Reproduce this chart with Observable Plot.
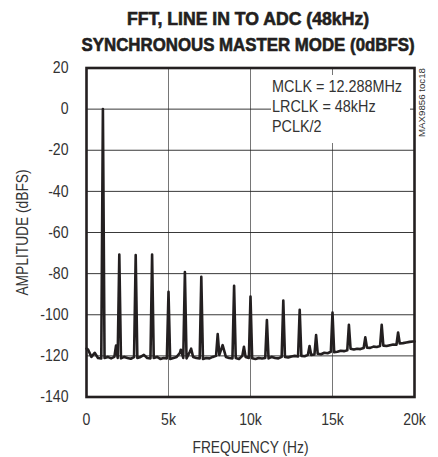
<!DOCTYPE html>
<html><head><meta charset="utf-8">
<script src="https://cdn.jsdelivr.net/npm/d3@7"></script>
<script src="https://cdn.jsdelivr.net/npm/@observablehq/plot@0.6"></script>
<style>
body{margin:0;background:#fff;}
#wrap{position:relative;width:438px;height:457px;overflow:hidden;}
#title{position:relative;height:58px;}
.tl{position:absolute;left:48px;width:400px;text-align:center;line-height:20px;white-space:nowrap;}
.tl span{display:inline-block;font-family:'Liberation Sans',Arial,sans-serif;font-weight:bold;font-size:17.5px;color:#231f20;-webkit-text-stroke:0.6px #231f20;transform-origin:50% 50%;}
#note{position:absolute;left:271px;top:75px;width:139px;height:68px;background:#fff;box-sizing:border-box;padding-top:2.4px;padding-left:1.3px;}
#noteIn{font-family:'Liberation Sans',Arial,sans-serif;font-size:17px;line-height:20px;color:#333;white-space:nowrap;transform-origin:0 0;display:inline-block;}
#code{position:absolute;left:0;top:0;transform-origin:0 0;
 font-family:'Liberation Sans',Arial,sans-serif;font-size:9.5px;line-height:9.5px;color:#333;white-space:nowrap;}
</style></head>
<body>
<div id="wrap">
<div id="title">
 <div class="tl" style="top:8.5px"><span data-w="242">FFT, LINE IN TO ADC (48kHz)</span></div>
 <div class="tl" style="top:35.2px"><span data-w="333">SYNCHRONOUS MASTER MODE (0dBFS)</span></div>
</div>
<div id="chart"></div>
<div id="note"><div id="noteIn"><span id="nl1">MCLK = 12.288MHz</span><br>LRCLK = 48kHz<br>PCLK/2</div></div>
<div id="code">MAX9856 toc18</div>
</div>
<script>
// Noise floor samples (Hz, dBFS)
const floorHz = [0,100,300,500,700,900,1100,1300,1500,1700,1900,2100,2300,2500,2700,2900,3100,3300,3500,3700,3900,
 4100,4300,4500,4700,4900,5100,5300,5500,5700,5900,6100,6300,6500,6700,6900,7100,7300,7500,7700,7900,
 8100,8500,8700,8900,9100,9300,9500,9700,9900,10100,10300,10500,10700,10900,11100,11300,11500,11700,11900,
 12100,12300,12500,12700,12900,13100,13300,13500,13700,13900,14100,14300,14500,14700,14900,15100,15300,15500,15700,15900,
 16100,16300,16500,16700,16900,17100,17300,17500,17700,17900,18100,18300,18500,18700,18900,19100,19300,19500,19700,19900,20000];
const floorDb = [-116.5,-117,-120.5,-118.5,-121,-121.3,-121,-120.5,-121.2,-120.5,-121,-121.2,-120.5,-121,-121.4,-120.6,-121,-120.5,-119.5,-121,-121.2,
 -121,-120.5,-121.5,-121,-121.2,-121.5,-121,-120.5,-118.5,-121,-121.2,-118,-120.5,-121,-121.3,-121.5,-121,-121.2,-120.5,-120,
 -119.5,-120.5,-121,-121.2,-121,-121.5,-120,-120.5,-121,-121.2,-121.5,-121,-121.3,-121,-121.2,-120.5,-121,-121.2,-120.5,
 -120.5,-120.8,-120.3,-120,-120.3,-120,-120.2,-119.5,-119.6,-119.3,-119,-119.2,-118.5,-118.7,-118,-118.2,-118,-117.5,-117.7,-117.3,
 -116.5,-116.9,-116.5,-116.7,-116.2,-116,-116.1,-115.5,-115.7,-115.2,-115,-115.2,-114.8,-114.5,-114.6,-114,-113.8,-113.5,-113.2,-113,-113];
// Harmonics of the 1kHz tone
const harmHz = [1000,2000,3000,4000,5000,6000,7000,8000,9000,10000,11000,12000,13000,14000,15000,16000,17000,18000,19000];
const harmDb = [0,-70.7,-71,-70.7,-88.8,-79.2,-81.5,-109.4,-85.9,-91.2,-102.6,-93.1,-97.6,-109.9,-98.9,-104.9,-111,-104.9,-108.6];
// Small spurs
const spurHz = [1800,5750,6380,8300,9600,13600];
const spurDb = [-115,-117,-116.5,-114.8,-115.6,-115.2];

const xTicks = [0,5000,10000,15000,20000];
const xTickLabels = ["0","5k","10k","15k","20k"];
const yTicks = [-140,-120,-100,-80,-60,-40,-20,0,20];

const spectrum = [
  ...floorHz.map((f,i)=>({f, db: floorDb[i]})),
  ...harmHz.map((f,i)=>({f, db: harmDb[i]})),
  ...spurHz.map((f,i)=>({f, db: spurDb[i]}))
].sort((a,b)=>a.f-b.f);

const ink = "#231f20";
const chart = Plot.plot({
  width: 438, height: 399,
  marginLeft: 86, marginRight: 24, marginTop: 9.5, marginBottom: 60.5,
  style: {fontFamily: "'Liberation Sans',Arial,sans-serif", fontSize: "16px", color: "#333", background: "#fff"},
  x: {domain: [0,20000]},
  y: {domain: [-140,20]},
  marks: [
    Plot.gridX(xTicks, {stroke: "#666", strokeOpacity: 1, strokeWidth: 0.9}),
    Plot.gridY(yTicks, {stroke: "#222", strokeOpacity: 1, strokeWidth: 0.9}),
    Plot.line(spectrum, {x: "f", y: "db", stroke: ink, strokeWidth: 2.6, strokeLinejoin: "round"}),
    Plot.frame({stroke: ink, strokeWidth: 2.6}),
    Plot.axisX(xTicks, {tickSize: 0, tickPadding: 17, tickFormat: d=>xTickLabels[xTicks.indexOf(d)],
      label: "FREQUENCY (Hz)", labelAnchor: "center", labelArrow: "none", labelOffset: 56}),
    Plot.axisY(yTicks, {tickSize: 0, tickPadding: 18, tickFormat: d=>String(d),
      label: "AMPLITUDE (dBFS)", labelAnchor: "center", labelArrow: "none", labelOffset: 70})
  ]
});
document.getElementById("chart").appendChild(chart);

// condense SVG texts horizontally (Helvetica Condensed look)
chart.querySelectorAll("text").forEach(t => {
  const w = t.getComputedTextLength();
  const txt = t.textContent;
  const k = (txt === "FREQUENCY (Hz)" || txt === "AMPLITUDE (dBFS)") ? 0.86 : 0.88;
  t.setAttribute("textLength", (w*k).toFixed(2));
  t.setAttribute("lengthAdjust", "spacingAndGlyphs");
});
// title lines fitted to the reference widths
document.querySelectorAll(".tl span").forEach(s => {
  const k = (+s.dataset.w) / s.getBoundingClientRect().width;
  s.style.transform = `scaleX(${k})`;
});
// annotation
{
  const w = document.getElementById("nl1").getBoundingClientRect().width;
  document.getElementById("noteIn").style.transform = `scaleX(${130 / w})`;
  const c = document.getElementById("code");
  const cw = c.getBoundingClientRect().width;
  c.style.transform = `translate(416.5px,137px) rotate(-90deg) scaleX(${69 / cw})`;
}
</script>
</body></html>
